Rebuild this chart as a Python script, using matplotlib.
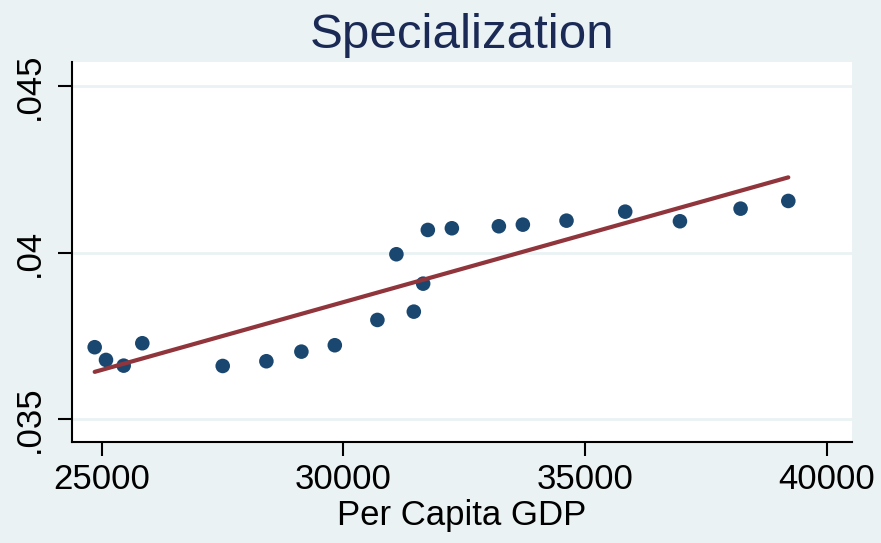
import numpy as np
import matplotlib
matplotlib.use("Agg")
import matplotlib.pyplot as plt

plt.rcParams['font.family'] = ['Liberation Sans', 'DejaVu Sans']

# Data
gdp = [24855, 25089, 25455, 25840, 27503, 28406, 29130, 29821, 30702, 31095,
       31455, 31648, 31745, 32242, 33214, 33710, 34613, 35827, 36959, 38213, 39200]
spec = [0.037163, 0.036781, 0.036610, 0.037282, 0.036600, 0.036742, 0.037030,
        0.037222, 0.037981, 0.039952, 0.038230, 0.039070, 0.040681, 0.040732,
        0.040792, 0.040840, 0.040960, 0.041230, 0.040942, 0.041320, 0.041551]
x_ticks = [25000, 30000, 35000, 40000]
y_ticks = [0.035, 0.04, 0.045]
y_tick_labels = ['.035', '.04', '.045']
title = 'Specialization'
x_title = 'Per Capita GDP'

BG = '#EAF2F3'
W, H = 881, 543
fig = plt.figure(figsize=(W / 100, H / 100), dpi=100, facecolor=BG)
ax = fig.add_axes([72 / W, 1 - 442 / H, (851.7 - 72) / W, (442 - 62.3) / H])
ax.set_facecolor('white')

for yt in y_ticks:
    ax.axhline(yt, color=BG, lw=2, zorder=0)

ax.scatter(gdp, spec, s=110, color='#1A476F', edgecolors='none', zorder=3)

xs = np.array(gdp, dtype=float)
ys = np.array(spec, dtype=float)
b, a = np.polyfit(xs, ys, 1)
xl = np.array([xs.min(), xs.max()])
ax.plot(xl, a + b * xl, color='#90353B', lw=3, solid_capstyle='round', zorder=4)

ax.set_xlim(24386, 40511)
ax.set_ylim(0.034319, 0.045711)
ax.set_xticks(x_ticks)
ax.set_xticklabels([str(t) for t in x_ticks])
ax.set_yticks(y_ticks)
ax.set_yticklabels(y_tick_labels, rotation=90, va='center')

for s in ['top', 'right']:
    ax.spines[s].set_visible(False)
for s in ['left', 'bottom']:
    ax.spines[s].set_linewidth(1.5)
    ax.spines[s].set_color('black')

ax.tick_params(axis='both', length=10, width=1.5, color='black', labelsize=25,
               labelcolor='black')
ax.tick_params(axis='x', pad=5)
ax.tick_params(axis='y', pad=9)

ax.set_xlabel(x_title, fontsize=25, labelpad=2, color='black')

fig.text(462 / W, 1 - 48 / H, title, ha='center', va='baseline', fontsize=35.5,
         color='#1A2A55')

fig.savefig('out.png', dpi=100, facecolor=BG)
